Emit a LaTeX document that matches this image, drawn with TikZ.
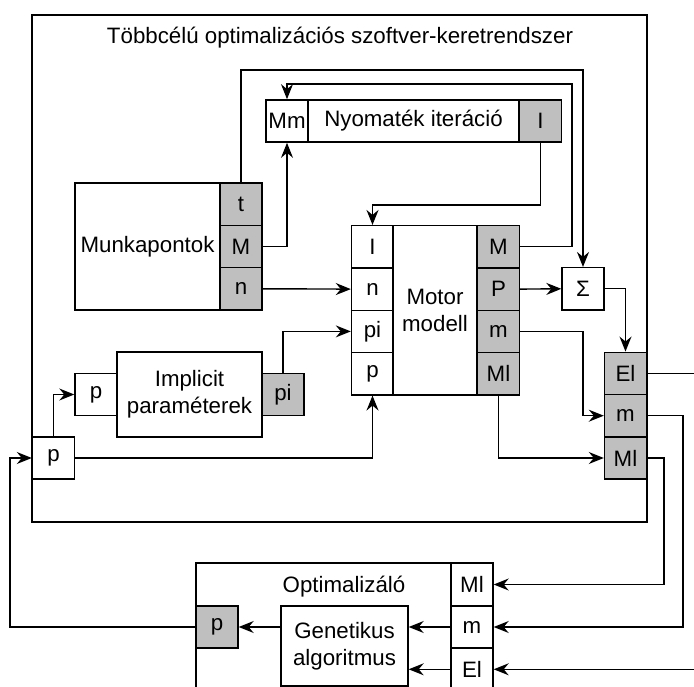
\documentclass[tikz,border=0pt]{standalone}
\usepackage{fontspec}
\setmainfont{Liberation Sans}
\usetikzlibrary{arrows.meta}

\begin{document}
\begin{tikzpicture}[x=1pt, y=-1pt, line width=1.4pt,
        font=\fontsize{22.3}{27}\selectfont,
        cell/.style={draw, fill=white, minimum width=42pt, minimum height=42.3pt, inner sep=0pt},
        gcell/.style={cell, fill=black!25},
        blok/.style={draw, fill=white, inner sep=0pt, align=center},
        arr/.style={-{Stealth[length=15pt, width=12pt, inset=5pt]}}]
        \useasboundingbox (0,0) rectangle (694,687);
        \clip (0,0) rectangle (694,687);
        \draw (32,15) rectangle (647,522);
        \node (title) at (340,38) {Többcélú optimalizációs szoftver-keretrendszer};

        \node[blok, minimum width=145pt, minimum height=127pt] (mk) at (147.5,246.5) {Munkapontok};
        \node[gcell] (mt) at (241,204.2) {t};
        \node[gcell] (mM) at (241,246.5) {M};
        \node[gcell] (mn) at (241,288.8) {n};

        \node[cell] (nMm) at (287,121) {Mm};
        \node[blok, minimum width=211pt, minimum height=42.3pt] (ny) at (413.5,121) {Nyomaték iteráció};
        \node[gcell] (nI) at (540.5,121) {I};

        \node[cell] (oI) at (372.5,246.8) {I};
        \node[cell] (on) at (372.5,289.1) {n};
        \node[cell] (opi) at (372.5,331.4) {pi};
        \node[cell] (op) at (372.5,373.7) {p};
        \node[blok, minimum width=84pt, minimum height=169.2pt] (mot) at (435,310.3) {Motor\\modell};
        \node[gcell] (oM) at (498.5,246.8) {M};
        \node[gcell] (oP) at (498.5,289.1) {P};
        \node[gcell] (om) at (498.5,331.4) {m};
        \node[gcell] (oMl) at (498.5,373.7) {Ml};

        \node[cell] (sig) at (583,288.8) {Σ};
        \node[gcell] (rEl) at (625.5,373.4) {El};
        \node[gcell] (rm) at (625.5,415.7) {m};
        \node[gcell] (rMl) at (625.5,458) {Ml};

        \node[cell] (ip) at (96,394.5) {p};
        \node[blok, minimum width=145pt, minimum height=85pt] (imp) at (189.5,394.5) {Implicit\\paraméterek};
        \node[gcell] (ipi) at (283,394.5) {pi};
        \node[cell] (bp) at (53.5,458) {p};

        \draw (196,563) rectangle (493,720);
        \node (optt) at (344,587) {Optimalizáló};
        \node[cell] (gMl) at (472,584.5) {Ml};
        \node[cell] (gm) at (472,627) {m};
        \node[cell] (gEl) at (472,669.3) {El};
        \node[blok, minimum width=127pt, minimum height=80pt] (gen) at (344.5,646) {Genetikus\\algoritmus};
        \node[gcell] (gp) at (217,627) {p};

        \coordinate (ktop) at (583,70);
        \coordinate (kM) at (572,84);
        \coordinate (km) at (583,400);
        \coordinate (kEl) at (710,500);
        \coordinate (km2) at (683,500);
        \coordinate (kMl) at (664,500);
        \coordinate (kp) at (10,500);

        \draw[arr] (mt.north) |- (ktop) -- (sig.north);
        \draw[arr] (mM.east) -| (nMm.south);
        \draw[arr] (oM.east) -| (kM) -| (nMm.north);
        \draw[arr] (nI.south) -- ++(0,62) -| (oI.north);
        \draw[arr] (mn.east) -- (on.west);
        \draw[arr] (ipi.north) |- (opi.west);
        \draw[arr] (bp.north) |- (ip.west);
        \draw[arr] (bp.east) -| (op.south);
        \draw[arr] (oP.east) -- (sig.west);
        \draw[arr] (sig.east) -| (rEl.north);
        \draw[arr] (om.east) -| (km) |- (rm.west);
        \draw[arr] (oMl.south) |- (rMl.west);
        \draw[arr] (rEl.east) -| (kEl) |- (gEl.east);
        \draw[arr] (rm.east) -| (km2) |- (gm.east);
        \draw[arr] (rMl.east) -| (kMl) |- (gMl.east);
        \draw[arr] (gm.west) -- (gm.west -| gen.east);
        \draw[arr] (gEl.west) -- (gEl.west -| gen.east);
        \draw[arr] (gen.west |- gp.east) -- (gp.east);
        \draw[arr] (gp.west) -| (kp) |- (bp.west);
\end{tikzpicture}
\end{document}
